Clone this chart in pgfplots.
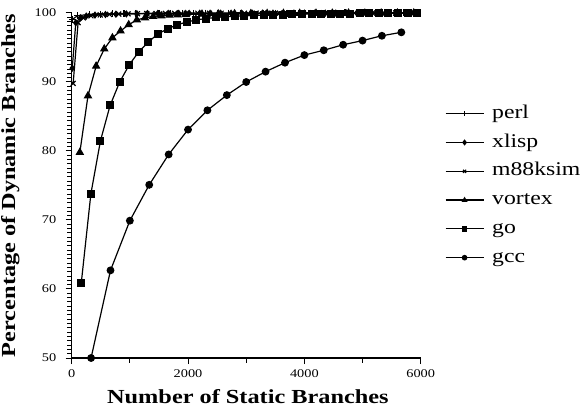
\documentclass[border=0pt]{standalone}
\usepackage{fontspec}
\setmainfont{Liberation Serif}[FakeStretch=1.22]
\usepackage{pgfplots}
\pgfplotsset{compat=1.18}
\begin{document}
\begin{tikzpicture}
\begin{axis}[
  name=ax, at={(0,0)}, anchor=south west,
  scale only axis, width=349bp, height=345bp,
  xmin=0, xmax=6000, ymin=50, ymax=100,
  axis lines*=left,
  axis line style={line width=1.2bp, black},
  xtick={0,2000,4000,6000},
  ytick={50,60,...,100},
  extra x ticks={1000,3000,5000},
  extra y ticks={50.625,51.25,...,99.4},
  extra x tick labels={}, extra y tick labels={},
  extra tick style={major tick length=4.5bp},
  tick align=outside, major tick length=6bp,
  tick style={line width=1bp, black},
  /pgf/number format/assume math mode=true,
  /pgf/number format/1000 sep={},
  ticklabel style={font=\fontsize{11.8}{14}\selectfont},
  yticklabel style={xshift=-6bp},
  xticklabel style={yshift=-2bp},
  xlabel={Number of Static Branches},
  ylabel={Percentage of Dynamic Branches},
  label style={font=\fontsize{20}{24}\selectfont\bfseries},
  xlabel style={at={(axis description cs:0.505,0)}, anchor=north, inner sep=0pt, yshift=-31bp},
  ylabel style={at={(axis description cs:-0.149,0.5)}, anchor=south, inner sep=0pt},
  clip=false,
  every axis plot/.append style={black, line width=1.2bp, mark options={solid, fill=black}},
  legend style={at={(1.069,0.736)}, anchor=north west, draw=none, fill=none,
    font=\fontsize{19.5}{22}\selectfont, inner sep=0pt, row sep=10bp, column sep=8bp,
    nodes={inner sep=0pt, text height=14bp, text depth=4.8bp}},
  legend cell align=left,
  legend image code/.code={\draw[mark repeat=2,mark phase=2,#1] plot coordinates {(0bp,0bp) (19bp,0bp) (38bp,0bp)};},
  legend image post style={mark size=2.2bp},
]
% perl
\addplot[mark=+, mark size=3.5bp] coordinates {
(15,99.1) (100,99.6) (300,99.8) (500,99.85) (700,99.9) (900,99.92) (1100,99.93) (1300,99.94)
(1500,99.95) (1700,99.95) (1900,99.96) (2100,99.96) (2300,99.97) (2500,99.97) (2700,99.97)
(2900,99.98) (3100,99.98) (3300,99.98) (3500,99.98) (3700,99.99) (3900,99.99) (4100,99.99)
(4300,99.99) (4500,99.99) (4700,100) (4900,100) (5100,100) (5300,100) (5500,100) (5700,100) (5900,100)};
\addlegendentry{perl}
% xlisp
\addplot[mark=diamond*, mark size=2.8bp] coordinates {
(10,92.0) (70,98.6) (150,99.3) (250,99.55) (400,99.7) (580,99.78) (760,99.83) (940,99.87)
(1120,99.9) (1300,99.92) (1480,99.93) (1660,99.94) (1840,99.95) (2020,99.95) (2200,99.96)
(2380,99.96) (2560,99.97) (2740,99.97) (2920,99.97) (3100,99.98) (3280,99.98) (3460,99.98)
(3640,99.98) (3820,99.99) (4000,99.99) (4180,99.99) (4360,99.99) (4540,99.99) (4720,100)
(4900,100) (5080,100) (5260,100) (5440,100) (5620,100) (5800,100)};
\addlegendentry{xlisp}
% m88ksim
\addplot[mark=x, mark size=3.5bp] coordinates {
(25,89.8) (110,98.6) (200,99.3) (330,99.6) (490,99.72) (650,99.8) (810,99.85) (970,99.88)
(1130,99.9) (1290,99.92) (1450,99.93) (1610,99.94) (1770,99.95) (1970,99.95) (2170,99.96)
(2370,99.96) (2570,99.97) (2770,99.97) (2970,99.97) (3170,99.98) (3370,99.98) (3570,99.98)
(3770,99.98) (3970,99.99) (4170,99.99) (4370,99.99) (4570,99.99) (4770,100) (4970,100)
(5170,100) (5370,100) (5570,100) (5770,100) (5950,100)};
\addlegendentry{m88ksim}
% vortex
\addplot[mark=triangle*, mark size=3.8bp] coordinates {
(140,79.8) (280,88.0) (420,92.3) (560,94.8) (700,96.4) (840,97.4) (980,98.3) (1120,99.0)
(1260,99.3) (1400,99.5) (1540,99.6) (1680,99.68) (1820,99.74) (1960,99.78) (2240,99.83)
(2520,99.86) (2800,99.89) (3080,99.91) (3360,99.93) (3640,99.94) (3920,99.95) (4200,99.96)
(4480,99.97) (4760,99.98) (5040,99.98) (5320,99.99) (5600,99.99) (5880,100)};
\addlegendentry{vortex}
% go
\addplot[mark=square*, mark size=3.4bp] coordinates {
(165,60.9) (330,73.8) (495,81.5) (660,86.6) (825,90.0) (990,92.5) (1155,94.4) (1320,95.8)
(1485,97.0) (1650,97.7) (1815,98.3) (1980,98.7) (2145,99.0) (2310,99.2) (2475,99.35)
(2640,99.45) (2805,99.55) (2970,99.6) (3135,99.65) (3300,99.7) (3465,99.75) (3630,99.78)
(3795,99.8) (3960,99.83) (4125,99.85) (4290,99.87) (4455,99.89) (4620,99.9) (4785,99.92)
(4950,99.93) (5115,99.94) (5280,99.95) (5445,99.96) (5610,99.97) (5775,99.98) (5940,99.99)};
\addlegendentry{go}
% gcc
\addplot[mark=*, mark size=3.3bp] coordinates {
(333,50.0) (667,62.7) (1000,69.9) (1333,75.1) (1667,79.5) (2000,83.1) (2333,85.9)
(2667,88.1) (3000,90.0) (3333,91.5) (3667,92.8) (4000,93.9) (4333,94.6) (4667,95.4)
(5000,96.0) (5333,96.7) (5667,97.2)};
\addlegendentry{gcc}
\end{axis}
\pgfresetboundingbox
\path ([shift={(-71.7bp,-54bp)}]ax.south west) rectangle ([shift={(161.3bp,13bp)}]ax.north east);
\end{tikzpicture}
\end{document}
